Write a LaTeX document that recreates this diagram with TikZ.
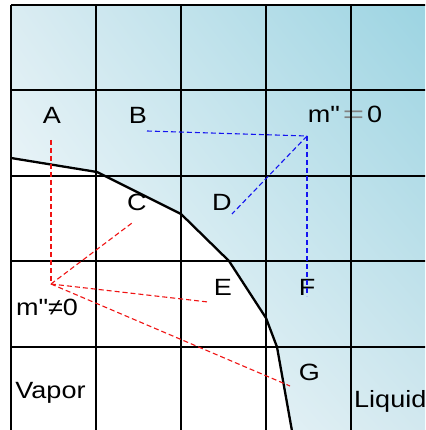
\documentclass[tikz,border=0pt]{standalone}
\usepackage{fontspec}
\usetikzlibrary{shadings}
\setmainfont{Liberation Sans}[FakeStretch=1.15,Ligatures=TeXOff]
\definecolor{tealTR}{RGB}{156,212,226}
\definecolor{tealUL}{RGB}{218,236,242}
\definecolor{tealLR}{RGB}{210,232,239}
\definecolor{redd}{RGB}{240,20,20}
\definecolor{bluee}{RGB}{20,20,240}
\definecolor{eqgray}{RGB}{128,128,128}
\begin{document}
\begin{tikzpicture}[x=1pt,y=-1pt,
  gridline/.style={line width=1.6pt,black},
  iface/.style={line width=2.3pt,black,line join=round},
  reddash/.style={redd,line width=1.1pt,dash pattern=on 5pt off 3pt},
  bluedash/.style={bluee,line width=1.1pt,dash pattern=on 5pt off 3pt},
  lbl/.style={inner sep=0pt,anchor=base,font=\fontsize{23.5}{27}\selectfont}]
\clip (0,0) rectangle (425,430);
\fill[white] (0,0) rectangle (425,430);
% liquid region shading
\shade[upper left=tealUL,upper right=tealTR,lower left=white,lower right=tealLR]
  (11,5) -- (425,5) -- (425,430) -- (292,430) -- (277,347) -- (266,318)
  -- (229,261) -- (181,214) -- (97,172) -- (11,158) -- cycle;
% labels
\node[lbl] (A) at (52,124) {A};
\node[lbl] (B) at (138,124) {B};
\node[lbl] (C) at (137,210.5) {C};
\node[lbl] (D) at (222,210.7) {D};
\node[lbl] (E) at (223,295.7) {E};
\node[lbl] (F) at (307,295.7) {F};
\node[lbl] (G) at (309.5,380) {G};
\node[lbl] (m0) at (345,122.5) {m"\hspace{3pt}{\color{eqgray}\scalebox{1.35}[1]{=}}\hspace{3pt}0};
\node[lbl] (mn0) at (47,315) {m"≠0};
\node[lbl] (vap) at (50.5,398) {Vapor};
\node[lbl,anchor=base west] (liq) at (354,407) {Liquid};
% grid
\foreach \x in {11,96,181,266,351} \draw[gridline] (\x,5) -- (\x,431);
\foreach \y in {5,90,176,261,347} \draw[gridline] (11,\y) -- (426,\y);
% interface
\draw[iface] (11,158) -- (97,172) -- (181,214) -- (229,261) -- (266,318) -- (277,347) -- (292,431);
% coordinates
\coordinate (P) at (51,284);
\coordinate (Atop) at (51,140);
\coordinate (Cend) at (132,223);
\coordinate (Eend) at (208,302);
\coordinate (Gend) at (290,386);
\coordinate (Q) at (307,136);
\coordinate (Bend) at (147,131);
\coordinate (Dend) at (232,214);
\coordinate (Fend) at (307,296);
% dashed lines
\draw[reddash] (Atop) -- (P);
\draw[reddash] (P) -- (Cend);
\draw[reddash] (P) -- (Eend);
\draw[reddash] (P) -- (Gend);
\draw[bluedash] (Bend) -- (Q);
\draw[bluedash] (Q) -- (Dend);
\draw[bluedash] (Q) -- (Fend);
\end{tikzpicture}
\end{document}
